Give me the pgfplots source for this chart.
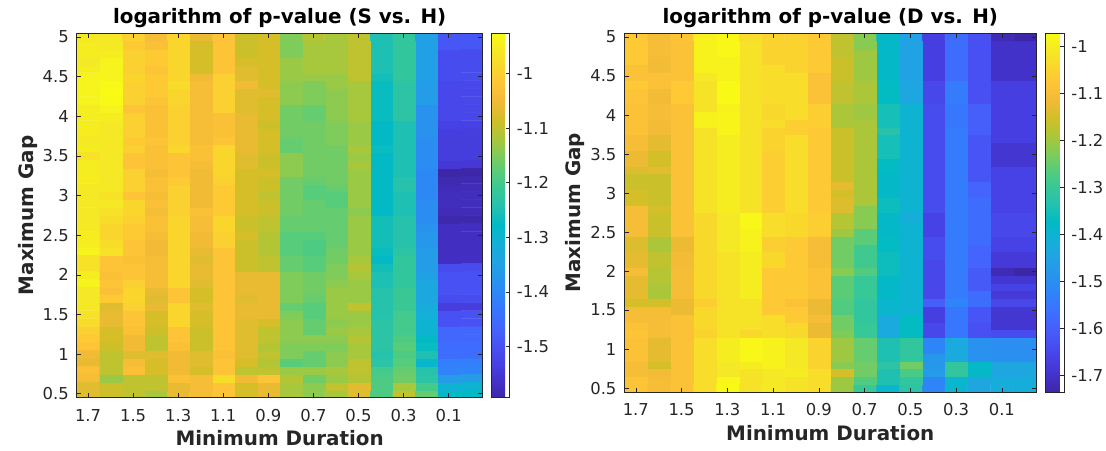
\documentclass[border=0pt]{standalone}
\usepackage{fontspec}
\setmainfont{DejaVu Sans}
\usepackage{pgfplots}
\usepackage{pgfplotstable}
\pgfplotsset{compat=1.18}
\definecolor{axisgray}{RGB}{38,38,38}
\newcommand\ticksize{\fontsize{16.5bp}{19bp}\selectfont}
\newcommand\labfont{\fontsize{20bp}{24bp}\selectfont\bfseries}
\pgfplotsset{colormap={parula}{
rgb=(0.2422,0.1504,0.6603) rgb=(0.2647,0.1978,0.7952) rgb=(0.2783,0.2559,0.8991)
rgb=(0.2810,0.3228,0.9579) rgb=(0.2699,0.3892,0.9906) rgb=(0.2206,0.4603,0.9973)
rgb=(0.1786,0.5289,0.9682) rgb=(0.1540,0.5902,0.9218) rgb=(0.1248,0.6459,0.8883)
rgb=(0.0689,0.6948,0.8394) rgb=(0.0067,0.7312,0.7660) rgb=(0.1408,0.7584,0.6842)
rgb=(0.2161,0.7843,0.5923) rgb=(0.3406,0.8008,0.4789) rgb=(0.5044,0.7993,0.3480)
rgb=(0.6720,0.7793,0.2227) rgb=(0.8203,0.7498,0.1535) rgb=(0.9393,0.7288,0.2100)
rgb=(0.9970,0.7659,0.2199) rgb=(0.9786,0.8386,0.1766) rgb=(0.9597,0.9135,0.1423)
rgb=(0.9769,0.9839,0.0805)}}

% log p-value, S vs. H : rows = Maximum Gap, columns = Minimum Duration 1.7 ... 0.0
\pgfplotstableread{
y x17 x16 x15 x14 x13 x12 x11 x10 x9 x8 x7 x6 x5 x4 x3 x2 x1 x0
5.0 -0.96 -0.96 -1.00 -1.04 -0.99 -1.06 -1.02 -1.09 -1.08 -1.15 -1.11 -1.12 -1.10 -1.25 -1.22 -1.35 -1.49 -1.49
4.9 -0.95 -0.96 -1.01 -1.03 -0.99 -1.08 -1.02 -1.09 -1.08 -1.15 -1.12 -1.12 -1.10 -1.25 -1.22 -1.35 -1.49 -1.49
4.8 -0.95 -0.95 -1.00 -1.01 -0.99 -1.08 -1.02 -1.09 -1.08 -1.15 -1.12 -1.12 -1.10 -1.25 -1.22 -1.35 -1.51 -1.51
4.7 -0.96 -0.94 -1.00 -1.01 -0.99 -1.08 -1.02 -1.08 -1.08 -1.13 -1.12 -1.12 -1.10 -1.25 -1.22 -1.35 -1.51 -1.51
4.6 -0.95 -0.94 -1.00 -1.02 -0.99 -1.08 -1.02 -1.07 -1.08 -1.13 -1.12 -1.12 -1.10 -1.25 -1.22 -1.35 -1.51 -1.51
4.5 -0.94 -0.94 -0.99 -1.01 -0.99 -1.05 -1.00 -1.07 -1.08 -1.13 -1.13 -1.13 -1.10 -1.26 -1.22 -1.35 -1.51 -1.51
4.4 -0.94 -0.93 -1.00 -1.01 -0.98 -1.04 -1.00 -1.05 -1.08 -1.14 -1.15 -1.13 -1.12 -1.27 -1.23 -1.36 -1.52 -1.52
4.3 -0.94 -0.926 -1.00 -1.01 -0.99 -1.04 -1.00 -1.07 -1.07 -1.14 -1.15 -1.14 -1.12 -1.27 -1.23 -1.36 -1.52 -1.52
4.2 -0.94 -0.93 -1.00 -1.02 -0.99 -1.04 -1.00 -1.07 -1.08 -1.14 -1.15 -1.14 -1.12 -1.27 -1.23 -1.36 -1.52 -1.52
4.1 -0.95 -0.94 -1.02 -1.03 -1.00 -1.04 -1.00 -1.07 -1.08 -1.16 -1.17 -1.14 -1.12 -1.27 -1.23 -1.38 -1.52 -1.52
4.0 -0.95 -0.95 -1.00 -1.03 -1.00 -1.04 -1.03 -1.06 -1.08 -1.16 -1.17 -1.14 -1.12 -1.27 -1.23 -1.38 -1.52 -1.52
3.9 -0.95 -0.96 -1.00 -1.03 -1.00 -1.04 -1.03 -1.06 -1.09 -1.16 -1.16 -1.15 -1.13 -1.28 -1.25 -1.38 -1.53 -1.53
3.8 -0.95 -0.96 -1.00 -1.03 -1.00 -1.04 -1.03 -1.06 -1.08 -1.16 -1.16 -1.15 -1.13 -1.28 -1.25 -1.38 -1.54 -1.54
3.7 -0.96 -0.96 -1.01 -1.02 -1.00 -1.04 -1.02 -1.06 -1.08 -1.17 -1.16 -1.15 -1.13 -1.28 -1.25 -1.39 -1.54 -1.54
3.6 -0.95 -0.96 -1.00 -1.03 -0.99 -1.03 -0.99 -1.06 -1.08 -1.17 -1.16 -1.16 -1.12 -1.27 -1.25 -1.39 -1.54 -1.54
3.5 -0.97 -0.96 -1.02 -1.03 -1.02 -1.03 -0.99 -1.07 -1.09 -1.14 -1.16 -1.16 -1.13 -1.28 -1.25 -1.39 -1.54 -1.54
3.4 -0.95 -0.96 -1.02 -1.03 -1.02 -1.04 -0.99 -1.07 -1.09 -1.14 -1.16 -1.16 -1.12 -1.28 -1.25 -1.39 -1.55 -1.55
3.3 -0.95 -0.96 -1.00 -1.04 -1.02 -1.05 -0.99 -1.08 -1.08 -1.14 -1.16 -1.16 -1.13 -1.28 -1.25 -1.40 -1.594 -1.594
3.2 -0.95 -0.96 -1.00 -1.03 -1.01 -1.05 -1.00 -1.08 -1.09 -1.16 -1.17 -1.16 -1.13 -1.28 -1.24 -1.40 -1.585 -1.585
3.1 -0.96 -0.96 -1.00 -1.03 -1.00 -1.05 -1.01 -1.08 -1.09 -1.16 -1.18 -1.17 -1.13 -1.28 -1.24 -1.40 -1.58 -1.58
3.0 -0.96 -0.97 -1.02 -1.04 -1.00 -1.05 -1.01 -1.08 -1.10 -1.16 -1.18 -1.18 -1.13 -1.28 -1.25 -1.40 -1.575 -1.575
2.9 -0.96 -0.96 -0.99 -1.03 -1.00 -1.05 -1.01 -1.08 -1.09 -1.16 -1.17 -1.18 -1.13 -1.28 -1.25 -1.39 -1.575 -1.575
2.8 -0.96 -0.97 -0.99 -1.04 -1.00 -1.03 -1.01 -1.08 -1.09 -1.16 -1.17 -1.17 -1.14 -1.28 -1.25 -1.39 -1.58 -1.58
2.7 -0.96 -0.98 -1.00 -1.03 -0.99 -1.04 -0.99 -1.09 -1.10 -1.17 -1.17 -1.17 -1.13 -1.26 -1.24 -1.39 -1.59 -1.59
2.6 -0.96 -0.99 -1.01 -1.03 -0.99 -1.04 -0.99 -1.09 -1.10 -1.17 -1.17 -1.17 -1.13 -1.26 -1.24 -1.38 -1.57 -1.57
2.5 -0.95 -0.99 -1.01 -1.04 -0.99 -1.05 -1.00 -1.08 -1.11 -1.18 -1.18 -1.17 -1.13 -1.26 -1.24 -1.37 -1.57 -1.57
2.4 -0.95 -0.98 -1.02 -1.05 -0.99 -1.05 -1.00 -1.09 -1.11 -1.18 -1.19 -1.17 -1.13 -1.26 -1.24 -1.37 -1.57 -1.57
2.3 -0.94 -0.97 -1.02 -1.05 -0.99 -1.06 -1.02 -1.09 -1.11 -1.18 -1.19 -1.16 -1.13 -1.27 -1.23 -1.36 -1.57 -1.57
2.2 -0.97 -1.02 -1.03 -1.04 -0.99 -1.07 -1.02 -1.09 -1.10 -1.17 -1.18 -1.16 -1.12 -1.28 -1.22 -1.36 -1.57 -1.57
2.1 -0.97 -1.02 -1.02 -1.04 -0.99 -1.06 -1.02 -1.09 -1.10 -1.17 -1.18 -1.15 -1.11 -1.26 -1.22 -1.36 -1.51 -1.51
2.0 -0.95 -1.03 -1.02 -1.04 -0.99 -1.06 -1.02 -1.06 -1.06 -1.15 -1.16 -1.15 -1.12 -1.25 -1.22 -1.35 -1.50 -1.50
1.9 -0.94 -1.02 -1.00 -1.04 -0.99 -1.07 -1.02 -1.06 -1.06 -1.15 -1.16 -1.14 -1.13 -1.25 -1.22 -1.33 -1.50 -1.50
1.8 -0.96 -1.03 -0.99 -1.06 -1.02 -1.08 -1.02 -1.06 -1.06 -1.15 -1.16 -1.13 -1.13 -1.24 -1.21 -1.33 -1.50 -1.50
1.7 -0.96 -1.01 -0.99 -1.07 -1.02 -1.08 -1.02 -1.07 -1.06 -1.15 -1.17 -1.13 -1.13 -1.24 -1.21 -1.33 -1.51 -1.51
1.6 -0.96 -1.07 -1.00 -1.06 -0.99 -1.07 -1.02 -1.06 -1.06 -1.17 -1.18 -1.13 -1.10 -1.24 -1.21 -1.32 -1.54 -1.54
1.5 -0.97 -1.06 -1.02 -1.08 -0.99 -1.08 -1.02 -1.06 -1.06 -1.15 -1.18 -1.13 -1.13 -1.24 -1.20 -1.31 -1.50 -1.50
1.4 -0.98 -1.06 -1.02 -1.08 -0.99 -1.08 -1.02 -1.07 -1.08 -1.14 -1.17 -1.14 -1.13 -1.23 -1.20 -1.30 -1.50 -1.50
1.3 -1.00 -1.08 -1.03 -1.09 -1.02 -1.09 -1.02 -1.07 -1.10 -1.14 -1.17 -1.13 -1.12 -1.23 -1.20 -1.30 -1.46 -1.46
1.2 -1.01 -1.08 -1.05 -1.10 -1.02 -1.09 -1.02 -1.07 -1.10 -1.14 -1.14 -1.14 -1.11 -1.23 -1.19 -1.28 -1.46 -1.46
1.1 -1.02 -1.09 -1.05 -1.10 -1.03 -1.09 -1.02 -1.07 -1.11 -1.15 -1.15 -1.15 -1.12 -1.23 -1.18 -1.27 -1.45 -1.45
1.0 -1.05 -1.10 -1.07 -1.07 -1.05 -1.07 -1.03 -1.07 -1.10 -1.15 -1.17 -1.14 -1.12 -1.24 -1.19 -1.25 -1.45 -1.45
0.9 -1.06 -1.10 -1.04 -1.08 -1.05 -1.07 -1.02 -1.08 -1.11 -1.18 -1.17 -1.14 -1.10 -1.23 -1.18 -1.29 -1.42 -1.42
0.8 -1.03 -1.10 -1.03 -1.08 -1.05 -1.08 -1.02 -1.10 -1.10 -1.13 -1.13 -1.12 -1.10 -1.20 -1.17 -1.24 -1.41 -1.41
0.7 -1.04 -1.13 -1.10 -1.10 -1.03 -1.04 -0.98 -1.05 -1.02 -1.11 -1.16 -1.13 -1.11 -1.19 -1.16 -1.23 -1.36 -1.36
0.6 -1.07 -1.09 -1.10 -1.10 -1.06 -1.04 -1.02 -1.08 -1.06 -1.12 -1.14 -1.10 -1.07 -1.19 -1.12 -1.20 -1.30 -1.30
0.5 -1.07 -1.09 -1.10 -1.12 -1.06 -1.04 -1.02 -1.08 -1.06 -1.12 -1.14 -1.12 -1.07 -1.19 -1.10 -1.17 -1.28 -1.28
}\tabL

% log p-value, D vs. H
\pgfplotstableread{
y x17 x16 x15 x14 x13 x12 x11 x10 x9 x8 x7 x6 x5 x4 x3 x2 x1 x0
5.0 -1.07 -1.10 -1.08 -0.99 -0.98 -1.03 -1.05 -1.05 -1.07 -1.17 -1.22 -1.38 -1.45 -1.67 -1.57 -1.63 -1.72 -1.735
4.9 -1.07 -1.10 -1.09 -0.99 -0.98 -1.02 -1.05 -1.05 -1.07 -1.17 -1.22 -1.38 -1.45 -1.67 -1.57 -1.63 -1.70 -1.70
4.8 -1.07 -1.10 -1.09 -0.99 -0.98 -1.02 -1.05 -1.05 -1.07 -1.17 -1.20 -1.38 -1.45 -1.67 -1.57 -1.63 -1.70 -1.70
4.7 -1.07 -1.11 -1.09 -0.99 -0.99 -1.02 -1.05 -1.05 -1.07 -1.16 -1.20 -1.38 -1.45 -1.67 -1.57 -1.63 -1.70 -1.70
4.6 -1.09 -1.11 -1.09 -0.99 -0.99 -1.02 -1.03 -1.05 -1.07 -1.16 -1.20 -1.38 -1.45 -1.67 -1.57 -1.63 -1.70 -1.70
4.5 -1.09 -1.09 -1.09 -1.01 -0.99 -1.02 -1.03 -1.03 -1.09 -1.16 -1.20 -1.38 -1.45 -1.67 -1.57 -1.63 -1.70 -1.70
4.4 -1.07 -1.09 -1.07 -1.02 -0.975 -1.02 -1.03 -1.03 -1.09 -1.17 -1.19 -1.37 -1.44 -1.65 -1.54 -1.63 -1.67 -1.67
4.3 -1.08 -1.11 -1.07 -1.02 -0.975 -1.02 -1.03 -1.03 -1.09 -1.17 -1.19 -1.37 -1.44 -1.65 -1.54 -1.63 -1.67 -1.67
4.2 -1.08 -1.11 -1.07 -1.02 -0.975 -1.02 -1.03 -1.03 -1.09 -1.17 -1.19 -1.37 -1.44 -1.65 -1.54 -1.63 -1.67 -1.67
4.1 -1.09 -1.10 -1.09 -1.02 -0.99 -1.02 -1.04 -1.03 -1.06 -1.19 -1.20 -1.35 -1.40 -1.64 -1.55 -1.60 -1.67 -1.67
4.0 -1.09 -1.10 -1.09 -0.99 -0.985 -1.02 -1.04 -1.03 -1.06 -1.19 -1.20 -1.35 -1.40 -1.64 -1.55 -1.60 -1.67 -1.67
3.9 -1.09 -1.11 -1.09 -0.99 -0.985 -1.02 -1.03 -1.06 -1.06 -1.19 -1.19 -1.35 -1.40 -1.64 -1.55 -1.60 -1.67 -1.67
3.8 -1.09 -1.11 -1.09 -1.02 -0.985 -1.02 -1.05 -1.06 -1.07 -1.16 -1.19 -1.33 -1.40 -1.64 -1.54 -1.60 -1.67 -1.67
3.7 -1.10 -1.13 -1.09 -1.02 -1.00 -1.02 -1.05 -1.03 -1.07 -1.16 -1.19 -1.35 -1.40 -1.64 -1.54 -1.62 -1.67 -1.67
3.6 -1.10 -1.13 -1.09 -1.02 -1.00 -1.02 -1.05 -1.03 -1.07 -1.16 -1.19 -1.35 -1.40 -1.64 -1.54 -1.62 -1.69 -1.69
3.5 -1.12 -1.15 -1.09 -1.02 -1.00 -1.02 -1.06 -1.03 -1.07 -1.16 -1.19 -1.35 -1.40 -1.64 -1.54 -1.62 -1.69 -1.69
3.4 -1.12 -1.15 -1.09 -1.02 -1.00 -1.02 -1.06 -1.03 -1.07 -1.16 -1.19 -1.37 -1.40 -1.64 -1.54 -1.62 -1.69 -1.69
3.3 -1.14 -1.13 -1.09 -1.02 -1.00 -1.02 -1.06 -1.03 -1.07 -1.16 -1.19 -1.37 -1.40 -1.64 -1.54 -1.62 -1.66 -1.66
3.2 -1.16 -1.16 -1.09 -1.02 -1.00 -1.02 -1.06 -1.03 -1.07 -1.16 -1.19 -1.38 -1.40 -1.64 -1.54 -1.62 -1.66 -1.66
3.1 -1.16 -1.16 -1.09 -1.02 -1.00 -1.02 -1.06 -1.03 -1.07 -1.13 -1.19 -1.38 -1.40 -1.64 -1.54 -1.59 -1.66 -1.66
3.0 -1.15 -1.16 -1.09 -1.02 -1.00 -1.02 -1.06 -1.03 -1.07 -1.15 -1.19 -1.38 -1.40 -1.64 -1.54 -1.59 -1.66 -1.66
2.9 -1.15 -1.16 -1.09 -1.02 -1.00 -1.02 -1.06 -1.03 -1.07 -1.14 -1.19 -1.36 -1.40 -1.64 -1.54 -1.57 -1.66 -1.66
2.8 -1.10 -1.15 -1.09 -1.02 -1.00 -1.02 -1.06 -1.03 -1.07 -1.14 -1.22 -1.36 -1.40 -1.64 -1.54 -1.57 -1.66 -1.66
2.7 -1.10 -1.16 -1.09 -1.04 -1.01 -0.98 -1.03 -1.04 -1.06 -1.18 -1.22 -1.38 -1.42 -1.66 -1.54 -1.57 -1.65 -1.65
2.6 -1.10 -1.16 -1.09 -1.04 -1.01 -0.98 -1.03 -1.04 -1.06 -1.18 -1.22 -1.38 -1.40 -1.66 -1.54 -1.57 -1.65 -1.65
2.5 -1.10 -1.16 -1.09 -1.04 -1.01 -0.99 -1.03 -1.04 -1.06 -1.20 -1.26 -1.38 -1.40 -1.66 -1.54 -1.57 -1.65 -1.65
2.4 -1.14 -1.19 -1.12 -1.04 -1.01 -0.99 -1.06 -1.07 -1.10 -1.24 -1.26 -1.37 -1.40 -1.64 -1.54 -1.57 -1.66 -1.66
2.3 -1.14 -1.19 -1.12 -1.04 -1.01 -0.99 -1.06 -1.07 -1.10 -1.24 -1.29 -1.37 -1.40 -1.64 -1.54 -1.59 -1.66 -1.66
2.2 -1.13 -1.17 -1.11 -1.04 -1.02 -1.00 -1.04 -1.07 -1.10 -1.24 -1.29 -1.36 -1.40 -1.64 -1.54 -1.59 -1.68 -1.68
2.1 -1.13 -1.17 -1.11 -1.04 -1.02 -1.00 -1.04 -1.07 -1.10 -1.24 -1.29 -1.36 -1.40 -1.65 -1.54 -1.59 -1.68 -1.68
2.0 -1.10 -1.18 -1.10 -1.04 -1.02 -1.00 -1.07 -1.07 -1.09 -1.22 -1.27 -1.36 -1.40 -1.65 -1.54 -1.61 -1.72 -1.735
1.9 -1.13 -1.18 -1.10 -1.04 -1.02 -1.00 -1.07 -1.07 -1.09 -1.26 -1.30 -1.38 -1.40 -1.65 -1.54 -1.61 -1.69 -1.69
1.8 -1.13 -1.19 -1.10 -1.04 -1.02 -1.00 -1.07 -1.07 -1.09 -1.26 -1.30 -1.38 -1.40 -1.65 -1.54 -1.61 -1.66 -1.66
1.7 -1.13 -1.19 -1.10 -1.04 -1.02 -1.00 -1.07 -1.07 -1.09 -1.26 -1.30 -1.38 -1.40 -1.65 -1.54 -1.57 -1.68 -1.68
1.6 -1.15 -1.15 -1.12 -1.06 -1.02 -1.02 -1.07 -1.09 -1.12 -1.27 -1.31 -1.39 -1.40 -1.60 -1.52 -1.57 -1.65 -1.65
1.5 -1.10 -1.10 -1.12 -1.04 -1.02 -1.02 -1.07 -1.07 -1.12 -1.27 -1.31 -1.39 -1.40 -1.67 -1.55 -1.62 -1.69 -1.69
1.4 -1.10 -1.10 -1.09 -1.04 -1.02 -1.02 -1.03 -1.07 -1.10 -1.24 -1.31 -1.43 -1.37 -1.67 -1.55 -1.62 -1.69 -1.69
1.3 -1.09 -1.10 -1.09 -1.04 -1.02 -1.02 -1.03 -1.04 -1.12 -1.24 -1.30 -1.43 -1.37 -1.65 -1.55 -1.63 -1.69 -1.69
1.2 -1.08 -1.10 -1.09 -1.05 -1.02 -1.04 -1.03 -1.04 -1.12 -1.23 -1.30 -1.43 -1.37 -1.65 -1.55 -1.63 -1.64 -1.64
1.1 -1.09 -1.13 -1.09 -1.03 -1.00 -0.98 -0.99 -1.01 -1.05 -1.20 -1.25 -1.34 -1.31 -1.52 -1.43 -1.49 -1.50 -1.50
1.0 -1.09 -1.13 -1.09 -1.03 -1.00 -0.98 -0.99 -1.01 -1.05 -1.20 -1.25 -1.34 -1.31 -1.52 -1.43 -1.49 -1.50 -1.50
0.9 -1.09 -1.13 -1.09 -1.03 -1.00 -0.98 -0.99 -1.01 -1.05 -1.20 -1.25 -1.34 -1.31 -1.48 -1.43 -1.49 -1.50 -1.50
0.8 -1.10 -1.15 -1.09 -1.03 -1.01 -1.00 -0.99 -1.01 -1.05 -1.22 -1.24 -1.32 -1.24 -1.48 -1.31 -1.38 -1.44 -1.44
0.7 -1.10 -1.11 -1.09 -1.03 -1.01 -1.02 -1.01 -1.00 -1.03 -1.15 -1.24 -1.34 -1.28 -1.47 -1.31 -1.38 -1.44 -1.44
0.6 -1.08 -1.10 -1.09 -1.03 -0.98 -1.02 -1.01 -1.02 -1.03 -1.20 -1.27 -1.34 -1.31 -1.52 -1.39 -1.44 -1.42 -1.42
0.5 -1.08 -1.10 -1.09 -1.03 -0.975 -1.02 -1.01 -1.02 -1.03 -1.20 -1.30 -1.39 -1.32 -1.52 -1.39 -1.44 -1.42 -1.42
}\tabR

% turn a wide table (one row per Maximum Gap) into matrix-plot coordinates
\newcommand\buildcoords[2]{%
  \global\let#2\empty
  \foreach \r in {45,44,...,0}{%
    \pgfplotstablegetelem{\r}{y}\of#1\let\yv\pgfplotsretval
    \foreach \c/\xv in {18/0.0,17/0.1,16/0.2,15/0.3,14/0.4,13/0.5,12/0.6,11/0.7,10/0.8,9/0.9,8/1.0,7/1.1,6/1.2,5/1.3,4/1.4,3/1.5,2/1.6,1/1.7}{%
      \pgfplotstablegetelem{\r}{[index]\c}\of#1%
      \xdef#2{#2 (\xv,\yv) [\pgfplotsretval]}%
    }%
  }%
}

\pgfplotsset{
  heat/.style={
    scale only axis, anchor=south west,
    x dir=reverse, xmin=-0.05, xmax=1.75, ymin=0.45, ymax=5.05,
    enlargelimits=false, axis on top,
    colormap name=parula,
    xtick={0.1,0.3,0.5,0.7,0.9,1.1,1.3,1.5,1.7},
    xticklabels={0.1,0.3,0.5,0.7,0.9,1.1,1.3,1.5,1.7},
    ytick={0.5,1,1.5,2,2.5,3,3.5,4,4.5,5},
    yticklabels={0.5,1,1.5,2,2.5,3,3.5,4,4.5,5},
    tick align=inside, xtick pos=both, ytick pos=both,
    major tick length=4.5bp,
    axis line style={draw=axisgray, line width=0.6bp},
    every tick/.style={draw=axisgray, line width=0.6bp},
    xticklabel style={font=\ticksize, text=axisgray, anchor=base, inner sep=0pt, yshift=-24bp},
    yticklabel style={font=\ticksize, text=axisgray, anchor=east, inner sep=0pt, xshift=-7.8bp},
    title style={font=\labfont, text=black, at={(0.5,1)}, anchor=base, yshift=3.3bp},
    xlabel={Minimum Duration},
    ylabel={Maximum Gap},
    xlabel style={font=\labfont, text=axisgray, at={(0.5,0)}, anchor=base, yshift=-48.3bp},
    ylabel style={font=\labfont, text=axisgray, anchor=base},
    colorbar,
  },
  cbar/.style={
    at={(parent axis.north east)}, anchor=north west,
    scale only axis,
    ytick pos=right, yticklabel pos=right, tick align=inside,
    major tick length=4bp,
    axis line style={draw=axisgray, line width=0.6bp},
    every tick/.style={draw=axisgray, line width=0.6bp},
    yticklabel style={font=\ticksize, text=axisgray, anchor=west, inner sep=0pt, xshift=7.2bp},
  },
}

\begin{document}
\buildcoords{\tabL}{\coordsL}
\buildcoords{\tabR}{\coordsR}
\begin{tikzpicture}
\path[use as bounding box] (0,0) rectangle (1106bp,453bp);
\begin{axis}[heat,
  at={(70.9bp,53bp)}, width=408bp, height=366.7bp,
  title={logarithm of p-value (S vs. H)},
  ylabel style={at={(-0.1078,0.5)}},
  point meta min=-1.594, point meta max=-0.926,
  colorbar shift/.style={xshift=8.7bp},
  colorbar style={cbar, width=18.6bp, height=366.7bp,
    ytick={-1.5,-1.4,-1.3,-1.2,-1.1,-1},
    yticklabels={-1.5,-1.4,-1.3,-1.2,-1.1,-1}},
]
\edef\doplot{\noexpand\addplot[matrix plot*, mesh/cols=18, point meta=explicit] coordinates {\coordsL};}
\doplot
\end{axis}
\begin{axis}[heat,
  at={(621.6bp,58.7bp)}, width=414.2bp, height=361bp,
  title={logarithm of p-value (D vs. H)},
  ylabel style={at={(-0.1077,0.5)}},
  point meta min=-1.735, point meta max=-0.972,
  colorbar shift/.style={xshift=9.6bp},
  colorbar style={cbar, width=18.4bp, height=361bp,
    ytick={-1.7,-1.6,-1.5,-1.4,-1.3,-1.2,-1.1,-1},
    yticklabels={-1.7,-1.6,-1.5,-1.4,-1.3,-1.2,-1.1,-1}},
]
\edef\doplot{\noexpand\addplot[matrix plot*, mesh/cols=18, point meta=explicit] coordinates {\coordsR};}
\doplot
\end{axis}
\end{tikzpicture}
\end{document}
